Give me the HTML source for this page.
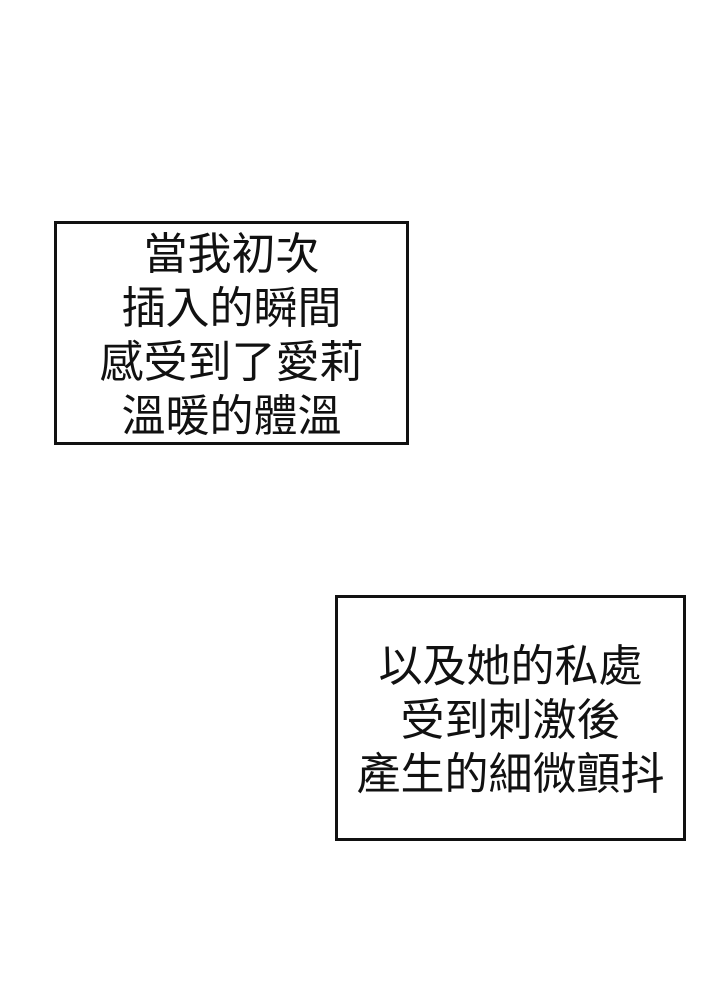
<!DOCTYPE html>
<html><head><meta charset="utf-8"><style>
body{margin:0;width:720px;height:983px;background:#fff;position:relative;overflow:hidden}
.b{position:absolute;border:3px solid #111;box-sizing:border-box;background:#fff;display:flex;flex-direction:column;justify-content:center;align-items:center;font-family:"Liberation Sans","Noto Sans CJK TC",sans-serif;font-size:44px;line-height:54px;color:#111;text-align:center}
</style></head><body>
<div class="b" style="left:54px;top:221px;width:355px;height:224px;padding-top:6px">當我初次<br>插入的瞬間<br>感受到了愛莉<br>溫暖的體溫</div>
<div class="b" style="left:335px;top:595px;width:351px;height:246px;padding-top:6px">以及她的私處<br>受到刺激後<br>產生的細微顫抖</div>
</body></html>
